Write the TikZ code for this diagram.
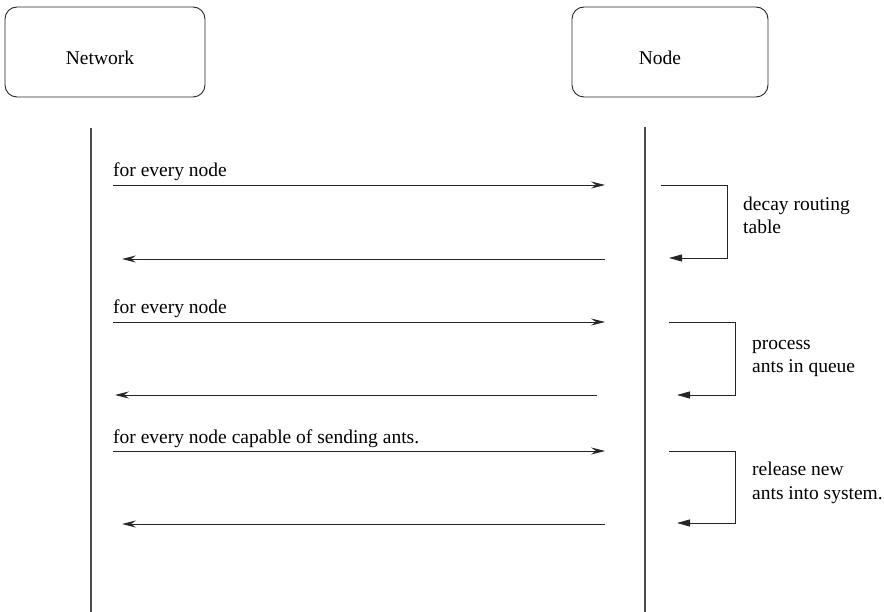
\documentclass[tikz,border=0pt]{standalone}
\usepackage{fontspec}
\setmainfont{Liberation Serif}
\usetikzlibrary{arrows.meta}

\tikzset{
  actor/.style={draw=black!85, line width=0.9pt, rounded corners=12pt,
    minimum width=200pt, minimum height=90pt, inner sep=0pt},
  lifeline/.style={draw=black!70, line width=1.3pt},
  msg/.style={draw=black!85, line width=0.9pt,
    -{Stealth[length=14pt,width=7pt,inset=5pt]}},
  selfmsg/.style={draw=black!85, line width=0.9pt,
    -{Triangle[length=13pt,width=7pt]}},
  msglabel/.style={anchor=base west, inner sep=0pt},
  note/.style={anchor=base west, inner sep=0pt, align=left}
}

\begin{document}
\begin{tikzpicture}[x=1pt, y=-1pt, font=\fontsize{19.5}{23.5}\selectfont]
  \useasboundingbox (0,0) rectangle (884,612);

  % participants
  \node[actor] (net) at (105,52) {};
  \node[actor, minimum width=196pt] (nd) at (670,52) {};
  \node at (100,58) {Network};
  \node at (660,58) {Node};

  % lifelines
  \coordinate (netTop) at (91,128);
  \coordinate (netBot) at (91,612);
  \coordinate (ndTop) at (645,127);
  \coordinate (ndBot) at (645,612);
  \draw[lifeline] (netTop) -- (netBot);
  \draw[lifeline] (ndTop) -- (ndBot);

  % round 1: decay routing table
  \coordinate (a1s) at (113,185);  \coordinate (a1e) at (605,185);
  \coordinate (r1s) at (605,259);  \coordinate (r1e) at (122,259);
  \coordinate (s1s) at (661,185);  \coordinate (s1e) at (669,258);
  \draw[msg] (a1s) -- (a1e);
  \draw[msg] (r1s) -- (r1e);
  \draw[selfmsg] (s1s) -| (727,258) -- (s1e);
  \node[msglabel] (l1) at (113,177) {for every node};
  \node[note] (n1) at (743,234) {decay routing\\table};

  % round 2: process ants in queue
  \coordinate (a2s) at (113,322);  \coordinate (a2e) at (605,322);
  \coordinate (r2s) at (597,395);  \coordinate (r2e) at (115,395);
  \coordinate (s2s) at (669,322);  \coordinate (s2e) at (677,395);
  \draw[msg] (a2s) -- (a2e);
  \draw[msg] (r2s) -- (r2e);
  \draw[selfmsg] (s2s) -| (735,395) -- (s2e);
  \node[msglabel] (l2) at (113,314) {for every node};
  \node[note] (n2) at (752,373) {process\\ants in queue};

  % round 3: release new ants
  \coordinate (a3s) at (113,451);  \coordinate (a3e) at (605,451);
  \coordinate (r3s) at (605,524);  \coordinate (r3e) at (122,524);
  \coordinate (s3s) at (669,451);  \coordinate (s3e) at (677,523);
  \draw[msg] (a3s) -- (a3e);
  \draw[msg] (r3s) -- (r3e);
  \draw[selfmsg] (s3s) -| (735,523) -- (s3e);
  \node[msglabel] (l3) at (113,443) {for every node capable of sending ants.};
  \node[note] (n3) at (752,499) {release new\\ants into system.};
\end{tikzpicture}
\end{document}
